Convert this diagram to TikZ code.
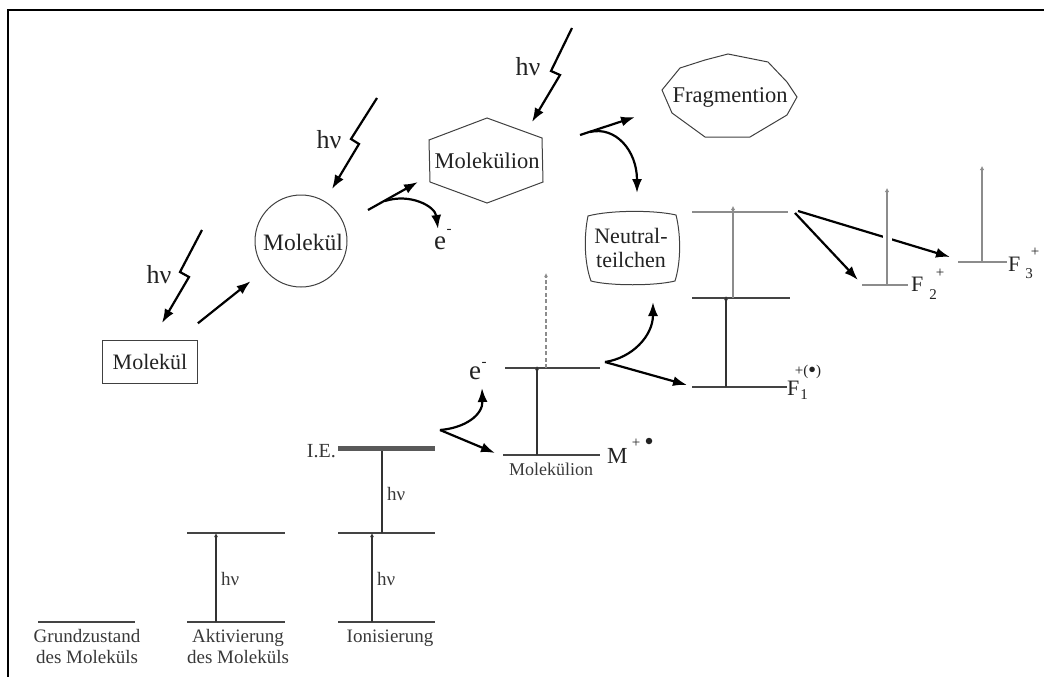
\documentclass[tikz,border=0pt]{standalone}
\usepackage{fontspec}
\setmainfont{Liberation Serif}
\usetikzlibrary{arrows.meta,calc}
\definecolor{lev}{HTML}{444444}
\definecolor{frg}{HTML}{8C8C8C}
\definecolor{txt}{HTML}{222222}
\begin{document}
\begin{tikzpicture}[x=1pt,y=-1pt,
  big/.style={line width=2.2pt,-{Latex[length=14pt,width=10pt]}},
  shapeline/.style={draw=black!75,line width=1pt},
  lvl/.style={draw=lev,line width=1.4pt},
  lvarrow/.style={draw=black!80,line width=1.3pt,-{Latex[length=4pt,width=4pt]}},
  fvert/.style={draw=frg,line width=2.2pt,-{Latex[length=4pt,width=4.5pt]}},
  bigfont/.style={font=\fontsize{22}{24}\selectfont,text=txt,inner sep=0pt},
  hvfont/.style={font=\fontsize{26}{28}\selectfont,text=txt,inner sep=0pt},
  smallfont/.style={font=\fontsize{19}{21}\selectfont,text=txt!90,inner sep=0pt},
  efont/.style={font=\fontsize{27}{29}\selectfont,text=txt,inner sep=0pt},
  supfont/.style={font=\fontsize{15}{17}\selectfont,text=txt,inner sep=0pt}]
\useasboundingbox (0,0) rectangle (1044,677);
% frame
\draw[line width=1.6pt] (8,677) -- (8,10) -- (1044,10);

% ---- species nodes
\node[bigfont,draw=black!75,line width=1pt,minimum width=95pt,minimum height=43pt] (m0) at (150,361.5) {Molekül};
\node[draw=black!75,line width=1pt,circle,minimum size=92pt,inner sep=0pt] (m1) at (301,241) {};
\node[bigfont,font=\fontsize{23.5}{25}\selectfont] (m1t) at (303,242) {Molekül};
\node[bigfont,font=\fontsize{22.5}{25}\selectfont] (mi) at (487,161) {Molekülion};
\draw[shapeline] (487,118) -- (542,138) -- (543,182) -- (487,203) -- (430,182) -- (429,140) -- cycle;
\node[bigfont,font=\fontsize{22.5}{25}\selectfont] (frag) at (730,97) {Fragmention};
\draw[shapeline] (728,54) -- (768,62) -- (787,82) -- (797,97) -- (787,115) -- (750,137) -- (705,137) -- (672,113) -- (662,90) -- (680,68) -- (705,60) -- cycle;
\node[bigfont,align=center] (neut) at (631,248) {Neutral-\\teilchen};
\draw[shapeline] (588,216) .. controls (610,210) and (655,210) .. (676,215)
  .. controls (681,235) and (681,262) .. (675,281)
  .. controls (655,286) and (610,286) .. (591,281)
  .. controls (584,262) and (584,235) .. cycle;

% ---- lightning (h nu)
\draw[big] (202,230) -- (180,272) -- (189,277) -- (162,323);
\node[hvfont,anchor=base] (hv1) at (159,283) {hν};
\draw[big] (377,98) -- (351,139) -- (359,144) -- (332,189);
\node[hvfont,anchor=base] (hv2) at (329,148) {hν};
\draw[big] (572,28) -- (551,71) -- (560,75) -- (532,122);
\node[hvfont,anchor=base] (hv3) at (528,76) {hν};

% ---- reaction arrows upper part
\draw[big,shorten <=26pt,shorten >=18pt] (m0) -- (m1);
\coordinate (b1) at (368,210);
\draw[big] (b1) -- (418,182);
\draw[big] (385,201) .. controls (410,193) and (435,206) .. (438,229);
\node[efont,anchor=base] (e1) at (440,249) {e};
\node[supfont] (e1m) at (449,231) {-};
\coordinate (b2) at (580,135);
\draw[big] (b2) -- (635,117);
\draw[big] (590,132) .. controls (615,126) and (637,150) .. (637,193);

% ---- energy levels
\draw[lvl] (38,622) -- (135,622);
\node[smallfont,anchor=base] (g1) at (87,642) {Grundzustand};
\node[smallfont,anchor=base] (g2) at (87,663) {des Moleküls};

\draw[lvl] (187,622) -- (285,622);
\draw[lvl] (187,533) -- (285,533);
\draw[lvarrow] (216,622) -- (216,533);
\node[smallfont,anchor=base west] (hva) at (221,585) {hν};
\node[smallfont,anchor=base] (a1) at (238,642) {Aktivierung};
\node[smallfont,anchor=base] (a2) at (238,663) {des Moleküls};

\draw[lvl] (338,622) -- (435,622);
\draw[lvl] (338,533) -- (435,533);
\draw[lvarrow] (372,622) -- (372,533);
\node[smallfont,anchor=base west] (hvi1) at (377,585) {hν};
\draw[lvarrow] (382,533) -- (382,446);
\node[smallfont,anchor=base west] (hvi2) at (387,500) {hν};
\draw[draw=black!65,line width=5pt] (338,448) -- (435,448);
\node[smallfont,anchor=base east,font=\fontsize{20}{22}\selectfont] (ie) at (336,457) {I.E.};
\node[smallfont,anchor=base] (i1) at (390,642) {Ionisierung};

% from I.E. to molecular ion
\coordinate (b3) at (440,430);
\draw[big] (b3) -- (495,453);
\draw[big] (b3) .. controls (465,428) and (483,415) .. (482,388);
\node[efont,anchor=base] (e2) at (475,379) {e};
\node[supfont] (e2m) at (484,364) {-};

% molecular ion levels
\draw[lvl] (503,455) -- (600,455);
\draw[lvl] (505,368) -- (600,368);
\draw[lvarrow] (537,455) -- (537,366);
\draw[draw=frg,line width=1.6pt,dash pattern=on 4pt off 2.5pt,-{Latex[length=4pt,width=4pt]}] (546,368) -- (546,273);
\node[smallfont,anchor=base,font=\fontsize{18}{20}\selectfont] (mil) at (551,475) {Molekülion};
\node[bigfont,anchor=base west,font=\fontsize{23}{25}\selectfont] (M) at (607,463) {M};
\node[supfont] (Mp) at (636,443) {+};
\node[inner sep=0pt,fill=txt,circle,minimum size=6.5pt] (Md) at (649,441) {};

% from molecular ion to fragments
\coordinate (b4) at (605,362);
\draw[big] (b4) -- (687,385);
\draw[big] (b4) .. controls (632,358) and (653,336) .. (653,302);

% fragment F1
\draw[lvl] (692,387) -- (787,387);
\draw[lvl] (692,298) -- (790,298);
\draw[lvl,draw=frg] (692,212) -- (788,212);
\draw[lvarrow] (726,387) -- (726,296);
\draw[fvert,line width=1.5pt] (733,298) -- (733,206);
\node[bigfont,anchor=base west] (F1) at (787,395) {F};
\node[supfont] (F1p) at (808,372) {+(\raisebox{0.3ex}{\scalebox{0.85}{●}})};
\node[supfont] (F1s) at (804,395) {1};

% arrows to F2 and F3
\draw[big] (795,213) -- (858,280);
\draw[big] (798,211) -- (950,257);
\draw[white,line width=9pt] (887,226) -- (887,247);
\draw[lvl,draw=frg] (862,285) -- (908,285);
\draw[fvert] (887,285) -- (887,188);
\node[bigfont,anchor=base west] (F2) at (911,291) {F};
\node[supfont] (F2p) at (940,273) {+};
\node[supfont] (F2s) at (933,295) {2};

\draw[lvl,draw=frg] (958,262) -- (1007,262);
\draw[fvert] (982,262) -- (982,166);
\node[bigfont,anchor=base west] (F3) at (1008,271) {F};
\node[supfont] (F3p) at (1035,252) {+};
\node[supfont] (F3s) at (1029,274) {3};
\end{tikzpicture}
\end{document}
